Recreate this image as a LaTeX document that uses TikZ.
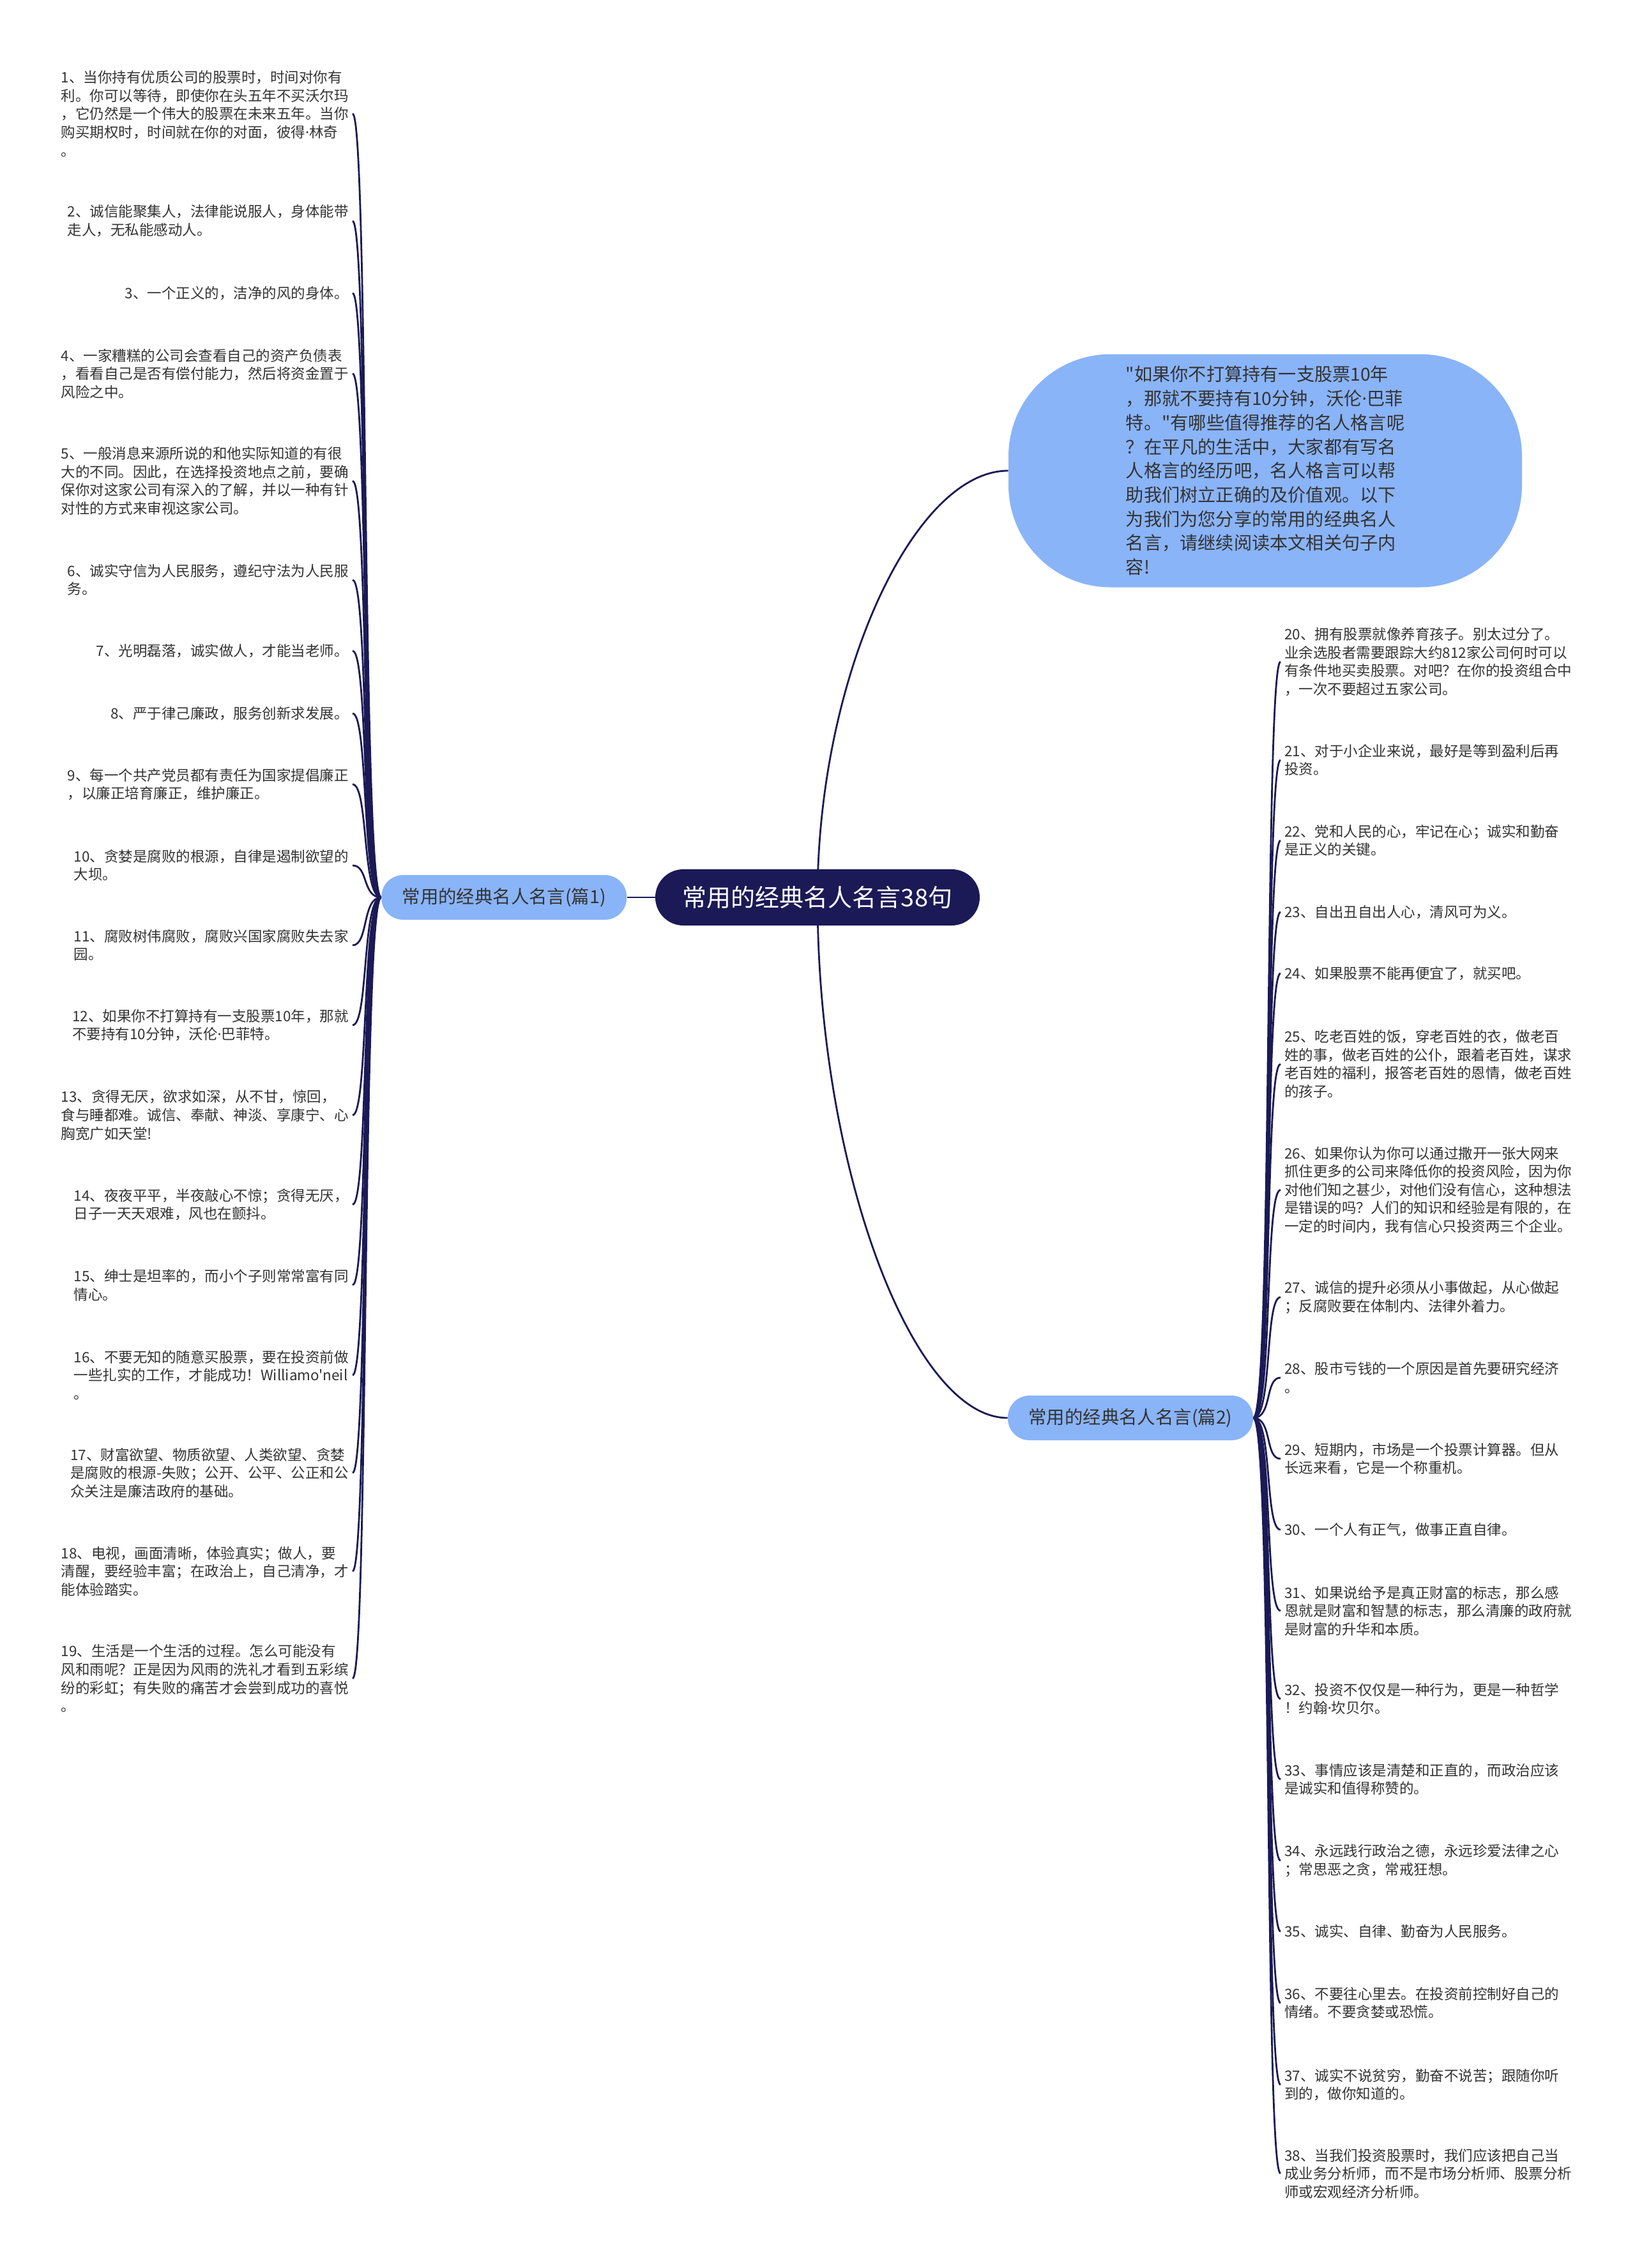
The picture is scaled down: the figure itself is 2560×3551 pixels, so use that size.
\documentclass[tikz,border=0pt]{standalone}
\usepackage{fontspec}
\setmainfont{Noto Sans CJK SC}[Ligatures=TeXOff]
\newfontfamily\latinfont{Noto Sans}
\newcommand{\namedot}{{\latinfont ·}}
\usepackage{tikz}
\usetikzlibrary{positioning, backgrounds}

\definecolor{navy}{RGB}{27,26,86}
\definecolor{skyblue}{RGB}{138,180,248}
\definecolor{inkgray}{RGB}{51,51,51}

\begin{document}
\begin{tikzpicture}[x=0.5pt, y=-0.5pt,
        root_box/.style={fill=navy, text=white, rounded corners=22pt, minimum width=254pt, minimum height=44pt, font=\fontsize{19}{23}\selectfont},
        branch_box/.style={fill=skyblue, text=inkgray, rounded corners=17pt, minimum width=192pt, minimum height=35pt, font=\fontsize{14.2}{17}\selectfont},
        intro_box/.style={fill=skyblue, text=inkgray, rounded corners=80pt, minimum width=402pt, minimum height=182.5pt, align=left, font=\fontsize{14.1}{18.85}\selectfont},
        leaf_left/.style={anchor=east, align=left, text=inkgray, inner xsep=3pt, inner ysep=0pt, font=\fontsize{11.25}{14.3}\selectfont},
        leaf_right/.style={anchor=west, align=left, text=inkgray, inner xsep=3pt, inner ysep=0pt, font=\fontsize{11.25}{14.3}\selectfont},
        link/.style={draw=navy, line width=1.4pt}]

    \useasboundingbox (0,0) rectangle (2560,3551);

    % Centre and first level
    \node[root_box] (root) at (1280,1405) {常用的经典名人名言38句};
    \node[branch_box, left=22pt of root] (b1) {常用的经典名人名言(篇1)};
    \node[branch_box] (b2) at (1770,2220) {常用的经典名人名言(篇2)};
    \node[intro_box] (intro) at (1981,737) {"如果你不打算持有一支股票10年\\，那就不要持有10分钟，沃伦\namedot 巴菲\\特。"有哪些值得推荐的名人格言呢\\？在平凡的生活中，大家都有写名\\人格言的经历吧，名人格言可以帮\\助我们树立正确的及价值观。以下\\为我们为您分享的常用的经典名人\\名言，请继续阅读本文相关句子内\\容!};

    % Left leaves (篇1)
    \node[leaf_left] (l1) at (552,178) {1、当你持有优质公司的股票时，时间对你有\\利。你可以等待，即使你在头五年不买沃尔玛\\，它仍然是一个伟大的股票在未来五年。当你\\购买期权时，时间就在你的对面，彼得\namedot 林奇\\。};
    \node[leaf_left] (l2) at (552,346) {2、诚信能聚集人，法律能说服人，身体能带\\走人，无私能感动人。};
    \node[leaf_left] (l3) at (552,459) {3、一个正义的，洁净的风的身体。};
    \node[leaf_left] (l4) at (552,585) {4、一家糟糕的公司会查看自己的资产负债表\\，看看自己是否有偿付能力，然后将资金置于\\风险之中。};
    \node[leaf_left] (l5) at (552,753) {5、一般消息来源所说的和他实际知道的有很\\大的不同。因此，在选择投资地点之前，要确\\保你对这家公司有深入的了解，并以一种有针\\对性的方式来审视这家公司。};
    \node[leaf_left] (l6) at (552,908) {6、诚实守信为人民服务，遵纪守法为人民服\\务。};
    \node[leaf_left] (l7) at (552,1019) {7、光明磊落，诚实做人，才能当老师。};
    \node[leaf_left] (l8) at (552,1117) {8、严于律己廉政，服务创新求发展。};
    \node[leaf_left] (l9) at (552,1228) {9、每一个共产党员都有责任为国家提倡廉正\\，以廉正培育廉正，维护廉正。};
    \node[leaf_left] (l10) at (552,1355) {10、贪婪是腐败的根源，自律是遏制欲望的\\大坝。};
    \node[leaf_left] (l11) at (552,1480) {11、腐败树伟腐败，腐败兴国家腐败失去家\\园。};
    \node[leaf_left] (l12) at (552,1605) {12、如果你不打算持有一支股票10年，那就\\不要持有10分钟，沃伦\namedot 巴菲特。};
    \node[leaf_left] (l13) at (552,1746) {13、贪得无厌，欲求如深，从不甘，惊回，\\食与睡都难。诚信、奉献、神淡、享康宁、心\\胸宽广如天堂!};
    \node[leaf_left] (l14) at (552,1886) {14、夜夜平平，半夜敲心不惊；贪得无厌，\\日子一天天艰难，风也在颤抖。};
    \node[leaf_left] (l15) at (552,2012) {15、绅士是坦率的，而小个子则常常富有同\\情心。};
    \node[leaf_left] (l16) at (552,2153) {16、不要无知的随意买股票，要在投资前做\\一些扎实的工作，才能成功！Williamo'neil\\。};
    \node[leaf_left] (l17) at (552,2306) {17、财富欲望、物质欲望、人类欲望、贪婪\\是腐败的根源-失败；公开、公平、公正和公\\众关注是廉洁政府的基础。};
    \node[leaf_left] (l18) at (552,2460) {18、电视，画面清晰，体验真实；做人，要\\清醒，要经验丰富；在政治上，自己清净，才\\能体验踏实。};
    \node[leaf_left] (l19) at (552,2628) {19、生活是一个生活的过程。怎么可能没有\\风和雨呢？正是因为风雨的洗礼才看到五彩缤\\纷的彩虹；有失败的痛苦才会尝到成功的喜悦\\。};

    % Right leaves (篇2)
    \node[leaf_right] (r20) at (2005,1036) {20、拥有股票就像养育孩子。别太过分了。\\业余选股者需要跟踪大约812家公司何时可以\\有条件地买卖股票。对吧？在你的投资组合中\\，一次不要超过五家公司。};
    \node[leaf_right] (r21) at (2005,1190) {21、对于小企业来说，最好是等到盈利后再\\投资。};
    \node[leaf_right] (r22) at (2005,1316) {22、党和人民的心，牢记在心；诚实和勤奋\\是正义的关键。};
    \node[leaf_right] (r23) at (2005,1428) {23、自出丑自出人心，清风可为义。};
    \node[leaf_right] (r24) at (2005,1524) {24、如果股票不能再便宜了，就买吧。};
    \node[leaf_right] (r25) at (2005,1666) {25、吃老百姓的饭，穿老百姓的衣，做老百\\姓的事，做老百姓的公仆，跟着老百姓，谋求\\老百姓的福利，报答老百姓的恩情，做老百姓\\的孩子。};
    \node[leaf_right] (r26) at (2005,1863) {26、如果你认为你可以通过撒开一张大网来\\抓住更多的公司来降低你的投资风险，因为你\\对他们知之甚少，对他们没有信心，这种想法\\是错误的吗？人们的知识和经验是有限的，在\\一定的时间内，我有信心只投资两三个企业。};
    \node[leaf_right] (r27) at (2005,2031) {27、诚信的提升必须从小事做起，从心做起\\；反腐败要在体制内、法律外着力。};
    \node[leaf_right] (r28) at (2005,2157) {28、股市亏钱的一个原因是首先要研究经济\\。};
    \node[leaf_right] (r29) at (2005,2284) {29、短期内，市场是一个投票计算器。但从\\长远来看，它是一个称重机。};
    \node[leaf_right] (r30) at (2005,2395) {30、一个人有正气，做事正直自律。};
    \node[leaf_right] (r31) at (2005,2522) {31、如果说给予是真正财富的标志，那么感\\恩就是财富和智慧的标志，那么清廉的政府就\\是财富的升华和本质。};
    \node[leaf_right] (r32) at (2005,2660) {32、投资不仅仅是一种行为，更是一种哲学\\！约翰\namedot 坎贝尔。};
    \node[leaf_right] (r33) at (2005,2786) {33、事情应该是清楚和正直的，而政治应该\\是诚实和值得称赞的。};
    \node[leaf_right] (r34) at (2005,2913) {34、永远践行政治之德，永远珍爱法律之心\\；常思恶之贪，常戒狂想。};
    \node[leaf_right] (r35) at (2005,3024) {35、诚实、自律、勤奋为人民服务。};
    \node[leaf_right] (r36) at (2005,3136) {36、不要往心里去。在投资前控制好自己的\\情绪。不要贪婪或恐慌。};
    \node[leaf_right] (r37) at (2005,3264) {37、诚实不说贫穷，勤奋不说苦；跟随你听\\到的，做你知道的。};
    \node[leaf_right] (r38) at (2005,3403) {38、当我们投资股票时，我们应该把自己当\\成业务分析师，而不是市场分析师、股票分析\\师或宏观经济分析师。};

    % Connectors behind the boxes
    \begin{scope}[on background layer]
        \fill[white] (0,0) rectangle (2560,3551);
        \draw[link] (root.west) -- (b1.east);
        \draw[link] (root.center) .. controls +(0,-340) and +(-150,0) .. (intro.west);
        \draw[link] (root.center) .. controls +(0,420) and +(-150,0) .. (b2.west);
        \foreach \i in {1,...,19}
            \draw[link] (b1.west) .. controls +(-30,0) and +(25,0) .. (l\i.east);
        \foreach \i in {20,...,38}
            \draw[link] (b2.east) .. controls +(30,0) and +(-25,0) .. (r\i.west);
    \end{scope}
\end{tikzpicture}
\end{document}
